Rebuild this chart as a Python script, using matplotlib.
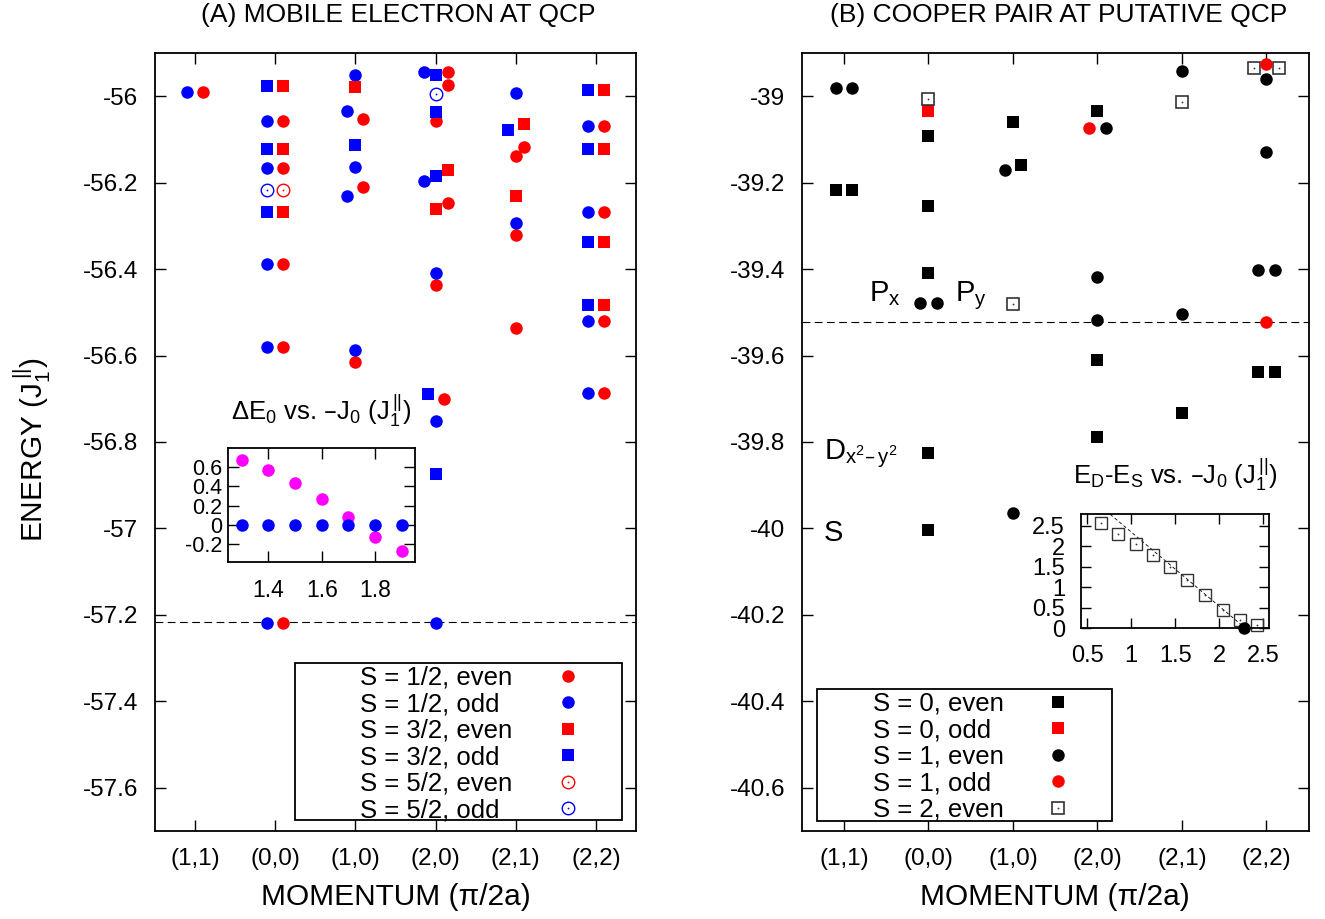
import matplotlib
matplotlib.use("Agg")
import matplotlib.pyplot as plt
from matplotlib.lines import Line2D
from matplotlib.patches import Rectangle

plt.rcParams['font.family'] = ['Liberation Sans', 'DejaVu Sans']
plt.rcParams['mathtext.default'] = 'regular'

# ---------------- data ----------------
momenta = ['(1,1)', '(0,0)', '(1,0)', '(2,0)', '(2,1)', '(2,2)']

# Panel A: mobile electron (x = momentum index, small shifts for visibility)
A_half_even_x = [0.1, 1.1, 1.1, 1.1, 1.1, 1.1, 2.1, 2.1, 2.0, 3.15, 3.15, 3.0, 3.15, 3.0, 3.1,
                 4.1, 4.0, 4.0, 4.0, 5.1, 5.1, 5.1, 5.1]
A_half_even_E = [-55.990, -56.058, -56.167, -56.388, -56.580, -57.218, -56.052, -56.211, -56.616,
                 -55.943, -55.974, -56.058, -56.246, -56.436, -56.701, -56.117, -56.139, -56.322,
                 -56.536, -56.069, -56.267, -56.521, -56.686]
A_half_odd_x = [-0.1, 0.9, 0.9, 0.9, 0.9, 0.9, 2.0, 1.9, 2.0, 1.9, 2.0, 2.85, 2.85, 3.0, 3.0, 3.0,
                4.0, 4.0, 4.9, 4.9, 4.9, 4.9]
A_half_odd_E = [-55.990, -56.058, -56.167, -56.388, -56.580, -57.218, -55.951, -56.034, -56.164,
                -56.232, -56.588, -55.943, -56.195, -56.408, -56.751, -57.218, -55.993, -56.293,
                -56.069, -56.267, -56.521, -56.686]
A_3half_even_x = [1.1, 1.1, 1.1, 2.0, 3.15, 3.0, 4.1, 4.0, 5.1, 5.1, 5.1, 5.1]
A_3half_even_E = [-55.977, -56.121, -56.267, -55.979, -56.170, -56.260, -56.065, -56.232,
                  -55.985, -56.121, -56.338, -56.482]
A_3half_odd_x = [0.9, 0.9, 0.9, 2.0, 3.0, 3.0, 3.0, 2.9, 3.0, 3.9, 4.9, 4.9, 4.9, 4.9]
A_3half_odd_E = [-55.977, -56.121, -56.267, -56.114, -55.951, -56.037, -56.185, -56.690, -56.873,
                 -56.077, -55.985, -56.121, -56.338, -56.482]
A_5half_even_x = [1.1]
A_5half_even_E = [-56.216]
A_5half_odd_x = [0.9, 3.0]
A_5half_odd_E = [-56.216, -55.994]
A_qcp_E = -57.2176

A_labels = ['S = 1/2, even', 'S = 1/2, odd', 'S = 3/2, even', 'S = 3/2, odd',
            'S = 5/2, even', 'S = 5/2, odd']

# Inset A
inA_J = [1.3, 1.4, 1.5, 1.6, 1.7, 1.8, 1.9]
inA_dE_mag = [0.676, 0.569, 0.436, 0.267, 0.077, -0.128, -0.276]
inA_dE_blue = [0.0, 0.0, 0.0, 0.0, 0.0, 0.0, 0.0]

# Panel B: Cooper pair
B_s0_even_x = [-0.1, 0.1, 1.0, 1.0, 1.0, 1.0, 1.0, 2.0, 2.1, 3.0, 3.0, 3.0, 4.0, 4.9, 5.1]
B_s0_even_E = [-39.218, -39.218, -39.091, -39.253, -39.410, -39.826, -40.004, -39.060, -39.158,
               -39.035, -39.610, -39.788, -39.733, -39.638, -39.638]
B_s0_odd_x = [1.0]
B_s0_odd_E = [-39.035]
B_s1_even_x = [-0.1, 0.1, 0.9, 1.1, 1.9, 2.0, 3.1, 3.0, 3.0, 4.0, 4.0, 5.0, 5.0, 4.9, 5.1]
B_s1_even_E = [-38.982, -38.982, -39.479, -39.479, -39.171, -39.964, -39.073, -39.419, -39.518,
               -38.942, -39.505, -38.961, -39.130, -39.401, -39.401]
B_s1_odd_x = [2.9, 5.0, 5.0]
B_s1_odd_E = [-39.073, -38.926, -39.522]
B_s2_even_x = [1.0, 2.0, 4.0, 4.85, 5.15]
B_s2_even_E = [-39.006, -39.481, -39.013, -38.934, -38.934]
B_qcp_E = -39.5225

B_labels = ['S = 0, even', 'S = 0, odd', 'S = 1, even', 'S = 1, odd', 'S = 2, even']

# Inset B
inB_J = [0.65, 0.85, 1.05, 1.25, 1.44, 1.64, 1.84, 2.04, 2.24, 2.43]
inB_gap = [2.56, 2.30, 2.06, 1.79, 1.49, 1.17, 0.82, 0.45, 0.20, 0.08]
inB_qcp_J = [2.28]
inB_qcp_gap = [0.0]
inB_fit_J = [0.76, 2.30]
inB_fit_gap = [2.78, 0.0]

# ---------------- figure ----------------
W, H = 1325, 919
fig = plt.figure(figsize=(W / 100, H / 100), dpi=100)


def fbox(x0, y0, x1, y1):
    """pixel box (top-left origin) -> figure fraction rect"""
    return [x0 / W, 1 - y1 / H, (x1 - x0) / W, (y1 - y0) / H]


axA = fig.add_axes(fbox(155, 53, 636, 831))
axB = fig.add_axes(fbox(801.7, 53, 1308.7, 831))

RED, BLUE, MAG = '#ff0000', '#0000ff', '#ff00ff'
MS = 9


def style_main(ax, ylim, yticks):
    ax.set_xlim(-0.5, 5.5)
    ax.set_ylim(*ylim)
    ax.set_xticks(range(len(momenta)))
    ax.set_xticklabels(momenta)
    ax.set_yticks(yticks)
    ax.set_yticklabels(['%g' % v for v in yticks])
    ax.tick_params(direction='in', top=True, right=True, length=8, width=1.0,
                   labelsize=17.5, pad=12)
    for s in ax.spines.values():
        s.set_linewidth(1.3)


def dotted(ax, x, y, marker, edge, ms=MS, mew=1.0, **kw):
    ax.plot(x, y, ls='none', marker=marker, mfc='none', mec=edge, mew=mew, ms=ms, **kw)
    ax.plot(x, y, ls='none', marker='o', mfc=edge, mec=edge, ms=1.3, mew=0, **kw)


TITLE_Y = (831 - 15) / 778
XLAB_Y = (831 - 905) / 778
AXFS = 21.5

# ----- Panel A -----
style_main(axA, (-57.7, -55.9), [-56, -56.2, -56.4, -56.6, -56.8, -57, -57.2, -57.4, -57.6])
axA.axhline(A_qcp_E, color='black', lw=0.8, ls=(0, (7, 4)))
axA.plot(A_half_even_x, A_half_even_E, ls='none', marker='o', color=RED, ms=MS, mew=0)
axA.plot(A_half_odd_x, A_half_odd_E, ls='none', marker='o', color=BLUE, ms=MS, mew=0)
axA.plot(A_3half_even_x, A_3half_even_E, ls='none', marker='s', color=RED, ms=MS, mew=0)
axA.plot(A_3half_odd_x, A_3half_odd_E, ls='none', marker='s', color=BLUE, ms=MS, mew=0)
dotted(axA, A_5half_even_x, A_5half_even_E, 'o', RED)
dotted(axA, A_5half_odd_x, A_5half_odd_E, 'o', BLUE)

axA.text(0.5 + 3 / 481, TITLE_Y, '(A) MOBILE ELECTRON AT QCP', transform=axA.transAxes,
         ha='center', va='center', fontsize=19)
axA.set_xlabel('MOMENTUM (π/2a)', fontsize=AXFS, va='baseline')
axA.xaxis.set_label_coords(0.5, XLAB_Y)
axA.set_ylabel('ENERGY (J$_{1}^{\\,||}$)', fontsize=AXFS, va='center')
axA.yaxis.set_label_coords((32 - 155) / 481, (831 - 450) / 778)

# ----- Panel B -----
style_main(axB, (-40.7, -38.9), [-39, -39.2, -39.4, -39.6, -39.8, -40, -40.2, -40.4, -40.6])
axB.axhline(B_qcp_E, color='black', lw=0.8, ls=(0, (7, 4)))
axB.plot(B_s0_even_x, B_s0_even_E, ls='none', marker='s', color='black', ms=MS, mew=0)
axB.plot(B_s0_odd_x, B_s0_odd_E, ls='none', marker='s', color=RED, ms=MS, mew=0)
axB.plot(B_s1_even_x, B_s1_even_E, ls='none', marker='o', color='black', ms=MS, mew=0)
axB.plot(B_s1_odd_x, B_s1_odd_E, ls='none', marker='o', color=RED, ms=MS, mew=0, zorder=3)
dotted(axB, B_s2_even_x, B_s2_even_E, 's', '#333333', ms=8.5, mew=1.2)

axB.text(0.5 + 3 / 507, TITLE_Y, '(B) COOPER PAIR AT PUTATIVE QCP', transform=axB.transAxes,
         ha='center', va='center', fontsize=19)
axB.set_xlabel('MOMENTUM (π/2a)', fontsize=AXFS, va='baseline')
axB.xaxis.set_label_coords(0.5, XLAB_Y)

LBL = 21
axB.text(0.291, -39.474, 'P$_x$', fontsize=LBL, ha='left', va='baseline')
axB.text(1.317, -39.474, 'P$_y$', fontsize=LBL, ha='left', va='baseline')
axB.text(-0.241, -39.840, 'D$_{x^2\u2013\\,y^2}$', fontsize=LBL, ha='left', va='baseline')
axB.text(-0.241, -40.029, 'S', fontsize=LBL, ha='left', va='baseline')

# ----- Inset A -----
inA = fig.add_axes(fbox(227.7, 447.7, 415.3, 562.3))
inA.plot(inA_J, inA_dE_mag, ls='none', marker='o', color=MAG, ms=MS, mew=0, clip_on=False)
inA.plot(inA_J, inA_dE_blue, ls='none', marker='o', color=BLUE, ms=MS, mew=0, clip_on=False)
inA.set_xlim(1.248, 1.95)
inA.set_ylim(-0.39, 0.804)
inA.set_xticks([1.4, 1.6, 1.8])
inA.set_yticks([0.6, 0.4, 0.2, 0, -0.2])
inA.set_xticklabels(['1.4', '1.6', '1.8'])
inA.set_yticklabels(['0.6', '0.4', '0.2', '0', '-0.2'])
inA.tick_params(axis='x', direction='in', top=True, length=8, width=1.0, labelsize=16.5, pad=12)
inA.tick_params(axis='y', direction='in', right=True, length=8, width=1.0, labelsize=15.5, pad=4)
for s in inA.spines.values():
    s.set_linewidth(1.3)
inA.text(0.5, 1.242, 'ΔE$_0$ vs. \u2013J$_0$ (J$_{1}^{\\,||}$)', transform=inA.transAxes,
         ha='center', va='baseline', fontsize=18.5)

# ----- Inset B -----
inB = fig.add_axes(fbox(1081, 514.3, 1269, 628.3))
inB.plot(inB_fit_J, inB_fit_gap, color='black', lw=0.6, ls=(0, (4, 3)))
dotted(inB, inB_J, inB_gap, 's', '#333333', ms=8.5, mew=1.0, clip_on=False)
inB.plot(inB_qcp_J, inB_qcp_gap, ls='none', marker='o', color='black', ms=MS, mew=0,
         clip_on=False, zorder=4)
inB.set_xlim(0.428, 2.568)
inB.set_ylim(0, 2.78)
inB.set_xticks([0.5, 1, 1.5, 2, 2.5])
inB.set_xticklabels(['0.5', '1', '1.5', '2', '2.5'])
inB.set_yticks([0, 0.5, 1, 1.5, 2, 2.5])
inB.set_yticklabels(['0', '0.5', '1', '1.5', '2', '2.5'])
inB.tick_params(axis='x', direction='in', top=True, length=7, width=1.0, labelsize=17, pad=12)
inB.tick_params(axis='y', direction='in', right=True, length=7, width=1.0, labelsize=17, pad=11.5)
for s in inB.spines.values():
    s.set_linewidth(1.3)
inB.text(0.5, 1.266, 'E$_D$-E$_S$ vs. \u2013J$_0$ (J$_{1}^{\\,||}$)', transform=inB.transAxes,
         ha='center', va='baseline', fontsize=18.5)

# ----- legends -----
hA = [Line2D([], [], ls='none', marker='o', color=RED, ms=MS, mew=0),
      Line2D([], [], ls='none', marker='o', color=BLUE, ms=MS, mew=0),
      Line2D([], [], ls='none', marker='s', color=RED, ms=MS, mew=0),
      Line2D([], [], ls='none', marker='s', color=BLUE, ms=MS, mew=0),
      (Line2D([], [], ls='none', marker='o', mfc='none', mec=RED, mew=1.0, ms=MS),
       Line2D([], [], ls='none', marker='o', color=RED, ms=1.3, mew=0)),
      (Line2D([], [], ls='none', marker='o', mfc='none', mec=BLUE, mew=1.0, ms=MS),
       Line2D([], [], ls='none', marker='o', color=BLUE, ms=1.3, mew=0))]
hB = [Line2D([], [], ls='none', marker='s', color='black', ms=MS, mew=0),
      Line2D([], [], ls='none', marker='s', color=RED, ms=MS, mew=0),
      Line2D([], [], ls='none', marker='o', color='black', ms=MS, mew=0),
      Line2D([], [], ls='none', marker='o', color=RED, ms=MS, mew=0),
      (Line2D([], [], ls='none', marker='s', mfc='none', mec='#333333', mew=1.2, ms=8.5),
       Line2D([], [], ls='none', marker='o', color='#333333', ms=1.3, mew=0))]

LFS = 18.5


def make_legend(ax, handles, labels, text_left, top, marker_x, frame):
    leg = ax.legend(handles, labels, loc='upper left',
                    bbox_to_anchor=(text_left / W, 1 - top / H),
                    bbox_transform=fig.transFigure, frameon=False, markerfirst=False,
                    borderpad=0, borderaxespad=0, handlelength=1.0, handletextpad=1.0,
                    labelspacing=0.095, fontsize=LFS)
    x0, y0, x1, y1 = frame
    ax.add_patch(Rectangle((x0 / W, 1 - y1 / H), (x1 - x0) / W, (y1 - y0) / H,
                           transform=fig.transFigure, facecolor='white', edgecolor='black',
                           lw=1.3, zorder=4, clip_on=False))
    leg.set_zorder(5)
    return leg, text_left, marker_x


legA = make_legend(axA, hA, A_labels, 360, 666, 567.7, (295, 663.3, 621.7, 820))
legB = make_legend(axB, hB, B_labels, 872.7, 692, 1057.7, (816.7, 689.3, 1111.7, 820.7))

# left-align texts while keeping markers in one column
fig.canvas.draw()
renderer = fig.canvas.get_renderer()
p2px = fig.dpi / 72.0
for leg, tleft, mx in (legA, legB):
    col = leg._legend_handle_box.get_children()[0]
    for entry in col.get_children():
        tbox = entry.get_children()[0]
        w = tbox.get_bbox(renderer).width
        handle_w = 1.0 * LFS * p2px
        entry.sep = (mx - tleft - w - handle_w / 2) / p2px

fig.savefig('out.png', dpi=100)
